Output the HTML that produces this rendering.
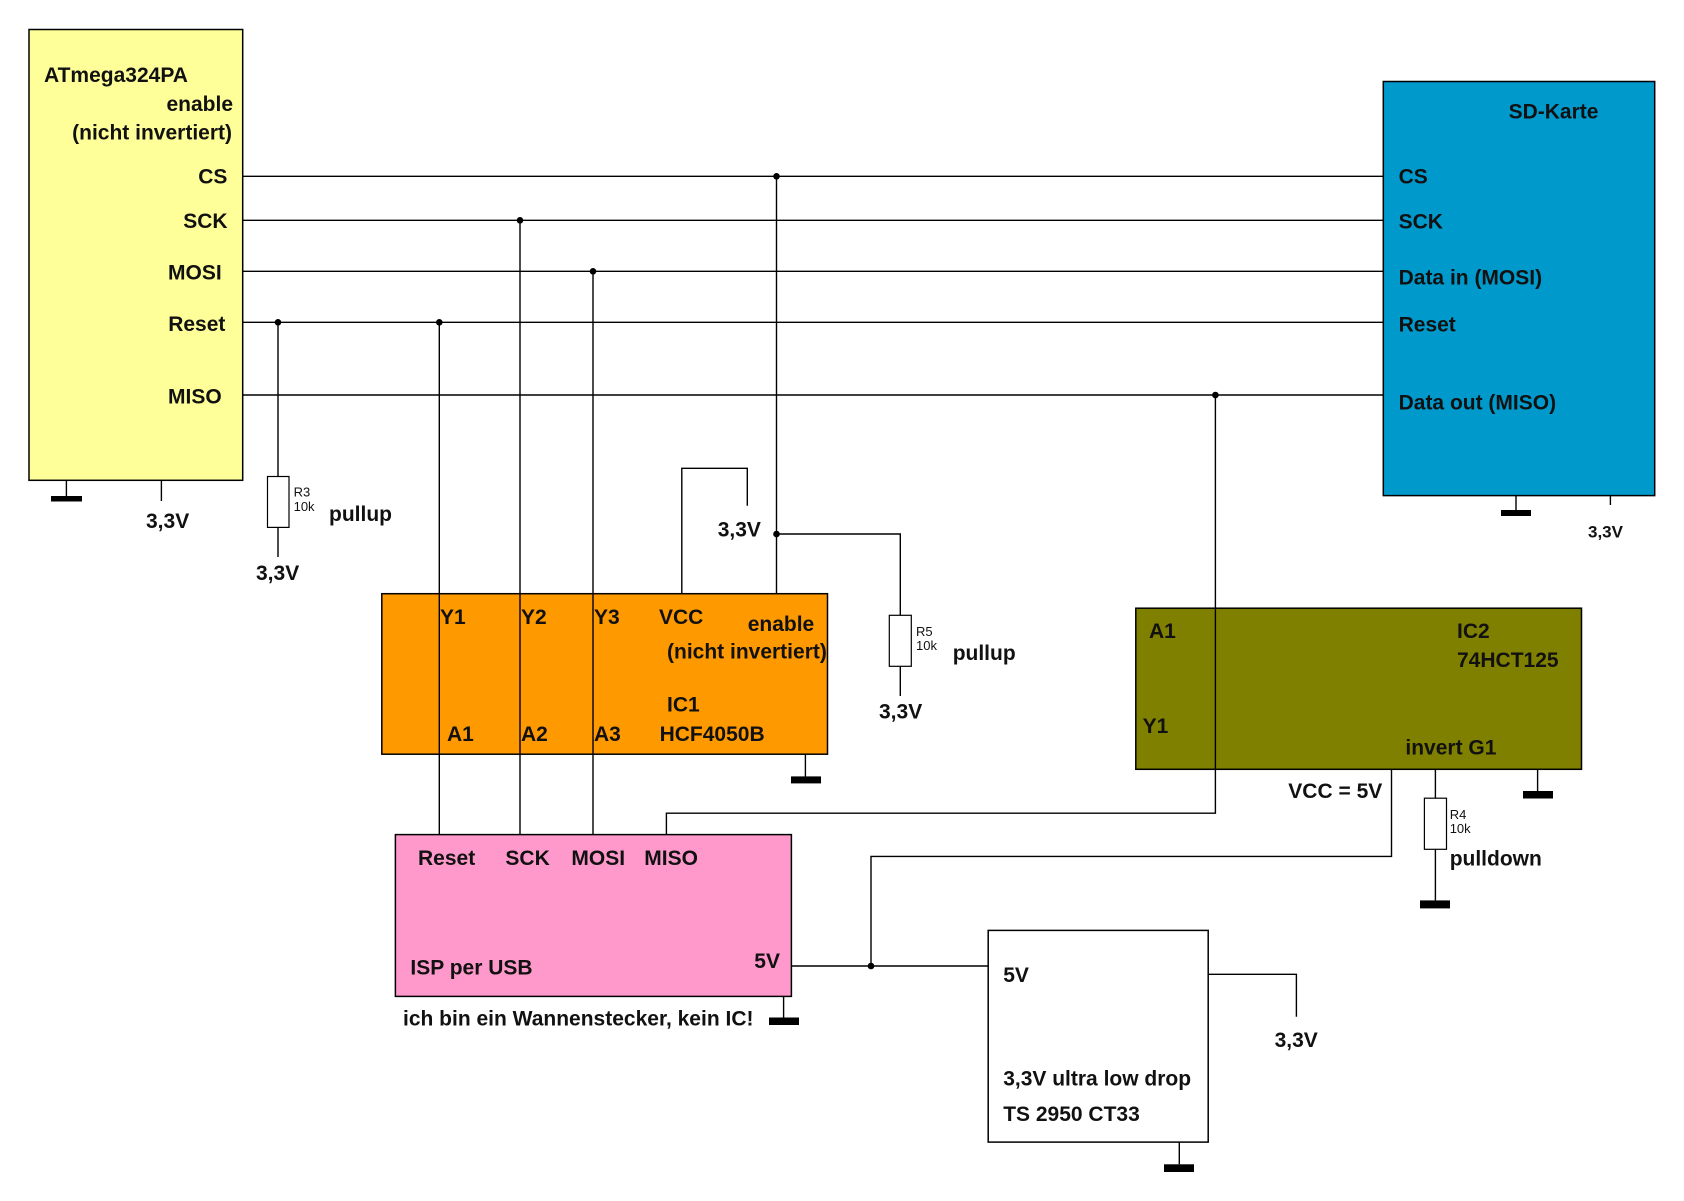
<!DOCTYPE html>
<html>
<head>
<meta charset="utf-8">
<style>
html,body{margin:0;padding:0;background:#fff;}
svg{display:block;}
text{font-family:"Liberation Sans",Arial,sans-serif;font-weight:bold;font-size:21px;fill:#111;}
text.s{font-weight:normal;font-size:13px;}
text.m{font-size:17px;}
.w{stroke:#000;stroke-width:1.4;fill:none;}
.b{stroke:#000;stroke-width:1.5;}
</style>
</head>
<body>
<svg width="1684" height="1201" viewBox="0 0 1684 1201" xmlns="http://www.w3.org/2000/svg">
<rect width="1684" height="1201" fill="#fff"/>

<!-- main horizontal wires -->
<path class="w" d="M242.7 176.3H1383.3M242.7 220.3H1383.3M242.7 271.3H1383.3M242.7 322.3H1383.3M242.7 395H1383.3"/>

<!-- vertical wires -->
<path class="w" d="M439.3 322.3V834.6M520 220.3V834.6M593 271.3V834.6M776.5 176.3V593.7"/>
<!-- MISO path -->
<path class="w" d="M1215.4 395V813.2H666.4V834.6"/>
<!-- VCC loop of IC1 -->
<path class="w" d="M681.8 593.7V468.3H747.3V505.7"/>
<!-- R5 path -->
<path class="w" d="M776.5 534H900.3V615.3M900.3 666.3V696"/>
<!-- R3 -->
<path class="w" d="M278 322.3V476.5M278 527.4V557"/>
<!-- VCC=5V path -->
<path class="w" d="M1391.5 769.3V856.4H871V966"/>
<!-- 5V wire -->
<path class="w" d="M791.4 966H988.2"/>
<!-- regulator out -->
<path class="w" d="M1208.2 974.3H1296.4V1016.8"/>
<!-- R4 -->
<path class="w" d="M1435.4 769.3V798.2M1435.4 849.3V900.4"/>

<!-- ATmega box -->
<rect class="b" x="29" y="29.5" width="213.7" height="450.8" fill="#ffff99"/>
<text x="44" y="82">ATmega324PA</text>
<text x="233" y="111" text-anchor="end">enable</text>
<text x="232" y="139.5" text-anchor="end">(nicht invertiert)</text>
<text x="198.2" y="183.5">CS</text>
<text x="183.2" y="228">SCK</text>
<text x="168" y="279.5">MOSI</text>
<text x="168.2" y="331">Reset</text>
<text x="168" y="403.5">MISO</text>
<path class="w" d="M66.4 480.3V497M161.4 480.3V501"/>
<rect x="51" y="496" width="31" height="5.5" fill="#000"/>
<text x="146" y="528">3,3V</text>

<!-- R3 -->
<rect x="267.5" y="476.5" width="21.5" height="50.9" fill="#fff" stroke="#000" stroke-width="1.2"/>
<text class="s" x="293.6" y="496.7">R3</text>
<text class="s" x="293.6" y="511">10k</text>
<text x="329" y="521">pullup</text>
<text x="256" y="580">3,3V</text>

<!-- SD card -->
<rect class="b" x="1383.3" y="81.5" width="271.4" height="414.1" fill="#0099cc"/>
<text x="1508.6" y="118.6">SD-Karte</text>
<text x="1398.6" y="183.7">CS</text>
<text x="1398.6" y="228.5">SCK</text>
<text x="1398.6" y="284.5">Data in (MOSI)</text>
<text x="1398.6" y="331.4">Reset</text>
<text x="1398.6" y="409.5">Data out (MISO)</text>
<path class="w" d="M1516 495.6V511M1610.4 495.6V505"/>
<rect x="1501" y="510" width="30" height="6" fill="#000"/>
<text class="m" x="1588" y="537.7">3,3V</text>

<!-- IC1 orange -->
<rect class="b" x="381.8" y="593.7" width="445.7" height="160.5" fill="#ff9900"/>
<path class="w" d="M439.3 593.7V754.2M520 593.7V754.2M593 593.7V754.2"/>
<text x="440" y="624">Y1</text>
<text x="521" y="624">Y2</text>
<text x="594" y="624">Y3</text>
<text x="659" y="624">VCC</text>
<text x="747.7" y="631">enable</text>
<text x="667" y="658.6">(nicht invertiert)</text>
<text x="667" y="711.4">IC1</text>
<text x="447" y="741">A1</text>
<text x="521" y="741">A2</text>
<text x="594" y="741">A3</text>
<text x="659.6" y="741">HCF4050B</text>
<path class="w" d="M805.4 754.2V777"/>
<rect x="791" y="776.4" width="30" height="7" fill="#000"/>
<text x="717.7" y="536.7">3,3V</text>

<!-- R5 -->
<rect x="889.3" y="615.3" width="22" height="51" fill="#fff" stroke="#000" stroke-width="1.2"/>
<text class="s" x="916" y="636">R5</text>
<text class="s" x="916" y="650">10k</text>
<text x="952.7" y="660">pullup</text>
<text x="879" y="718.3">3,3V</text>

<!-- ISP pink -->
<rect class="b" x="395.4" y="834.6" width="396" height="161.8" fill="#ff99cc"/>
<text x="418" y="865">Reset</text>
<text x="505.4" y="865">SCK</text>
<text x="571.4" y="865">MOSI</text>
<text x="644.3" y="865">MISO</text>
<text x="410.4" y="974.6">ISP per USB</text>
<text x="754.3" y="968">5V</text>
<path class="w" d="M783.6 996.4V1018"/>
<rect x="769" y="1017.5" width="30" height="7.5" fill="#000"/>
<text x="403" y="1025.7">ich bin ein Wannenstecker, kein IC!</text>

<!-- IC2 olive -->
<rect class="b" x="1135.8" y="608.2" width="445.7" height="161.1" fill="#808000"/>
<path class="w" d="M1215.4 608.2V769.3"/>
<text x="1149" y="638">A1</text>
<text x="1142.6" y="733">Y1</text>
<text x="1457" y="638">IC2</text>
<text x="1457" y="667">74HCT125</text>
<text x="1405.4" y="754.6">invert G1</text>
<text x="1288.3" y="798.2">VCC = 5V</text>
<path class="w" d="M1537.6 769.3V791"/>
<rect x="1523" y="791" width="30" height="7.5" fill="#000"/>

<!-- R4 -->
<rect x="1424.4" y="798.2" width="22.1" height="51.1" fill="#fff" stroke="#000" stroke-width="1.2"/>
<text class="s" x="1449.7" y="819">R4</text>
<text class="s" x="1449.7" y="833">10k</text>
<text x="1449.7" y="865.4">pulldown</text>
<rect x="1420" y="900.4" width="30" height="8" fill="#000"/>

<!-- Regulator -->
<rect class="b" x="988.2" y="930.4" width="220" height="211.7" fill="#fff"/>
<text x="1003.2" y="981.8">5V</text>
<text x="1003.2" y="1085.4">3,3V ultra low drop</text>
<text x="1003.2" y="1121">TS 2950 CT33</text>
<text x="1274.6" y="1047">3,3V</text>
<path class="w" d="M1179.3 1142.1V1164.3"/>
<rect x="1164" y="1164.3" width="30" height="7.7" fill="#000"/>

<!-- junction dots -->
<g fill="#000">
<circle cx="278" cy="322.3" r="3.3"/>
<circle cx="439.3" cy="322.3" r="3.3"/>
<circle cx="520" cy="220.3" r="3.3"/>
<circle cx="593" cy="271.3" r="3.3"/>
<circle cx="776.5" cy="176.3" r="3.3"/>
<circle cx="776.5" cy="534" r="3.3"/>
<circle cx="1215.4" cy="395" r="3.3"/>
<circle cx="871" cy="966" r="3.3"/>
</g>
</svg>
</body>
</html>
